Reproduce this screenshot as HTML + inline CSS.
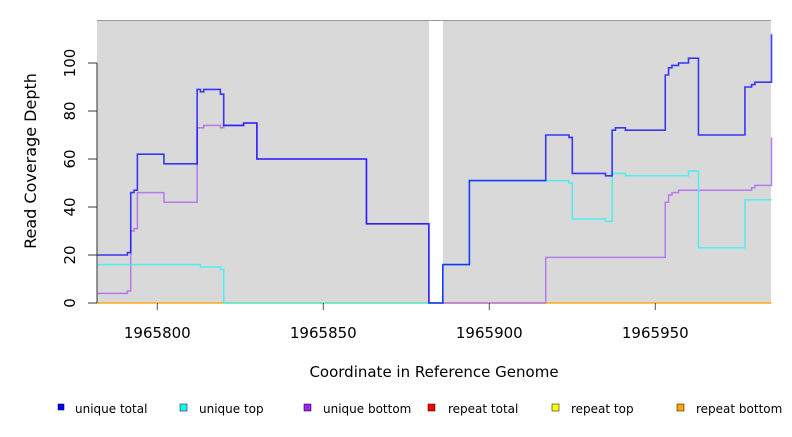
<!DOCTYPE html>
<html><head><meta charset="utf-8"><style>
body{margin:0;background:#fff;font-family:"Liberation Sans",sans-serif}
svg text{font-family:"DejaVu Sans","Liberation Sans",sans-serif}
</style></head><body>
<svg id="c" width="792" height="432" viewBox="0 0 792 432">
<rect x="97" y="20" width="332" height="283" fill="#d9d9d9"/>
<rect x="443" y="20" width="328" height="283" fill="#d9d9d9"/>
<line x1="97" y1="20.5" x2="771" y2="20.5" stroke="#999" stroke-width="1"/>
<g id="series"></g>
<g id="axes"></g>
<text x="36" y="161" transform="rotate(-90 36 161)" text-anchor="middle" font-size="16">Read Coverage Depth</text>
<text x="434" y="377" text-anchor="middle" font-size="15">Coordinate in Reference Genome</text>
<g>
<g><rect x="58" y="404" width="6" height="6" fill="#0000ff" stroke="#000" stroke-width="0.5"/><text x="75" y="413" font-size="12">unique total</text></g>
<g><rect x="180" y="404" width="7" height="7" fill="#00ffff" stroke="#000" stroke-width="0.5"/><text x="199" y="413" font-size="12">unique top</text></g>
<g><rect x="304" y="404" width="7" height="7" fill="#a020f0" stroke="#000" stroke-width="0.5"/><text x="323" y="413" font-size="12">unique bottom</text></g>
<g><rect x="428" y="404" width="7" height="7" fill="#ff0000" stroke="#000" stroke-width="0.5"/><text x="448" y="413" font-size="12">repeat total</text></g>
<g><rect x="552" y="404" width="7" height="7" fill="#ffff00" stroke="#000" stroke-width="0.5"/><text x="571" y="413" font-size="12">repeat top</text></g>
<g><rect x="677" y="404" width="7" height="7" fill="#ffa500" stroke="#000" stroke-width="0.5"/><text x="696" y="413" font-size="12">repeat bottom</text></g>
</g>
</svg>
<script>
const totalX=[1965781.8,1965791,1965792,1965793,1965794,1965802,1965812,1965813,1965814,1965819,1965820,1965826,1965830,1965863,1965881.8,1965886,1965894,1965917,1965924,1965925,1965935,1965937,1965938,1965941,1965953,1965954,1965955,1965957,1965960,1965963,1965977,1965979,1965980,1965985];
const totalY=[20,21,46,47,62,58,89,88,89,87,74,75,60,33,0,16,51,70,69,54,53,72,73,72,95,98,99,100,102,70,90,91,92,112];
const topX=[1965781.8,1965813,1965819,1965820,1965886,1965894,1965924,1965925,1965935,1965937,1965941,1965960,1965963,1965977,1965985];
const topY=[16,15,14,0,16,51,50,35,34,54,53,55,23,43,43];
const botX=[1965781.8,1965791,1965792,1965793,1965794,1965802,1965812,1965814,1965819,1965820,1965826,1965830,1965863,1965881.8,1965917,1965953,1965954,1965955,1965957,1965979,1965980,1965985];
const botY=[4,5,30,31,46,42,73,74,73,74,75,60,33,0,19,42,45,46,47,48,49,69];
const repeatX=[1965781.8,1965820,1965886,1965917,1965985];
const repeatY=[0,0,0,0,0];
const xTicks=[1965800,1965850,1965900,1965950];
const yTicks=[0,20,40,60,80,100];
const NS="http://www.w3.org/2000/svg";
const xs=v=>157.3+(v-1965800)*3.32;
const ys=v=>303-v*2.4;
function stepPath(X,Y){let d="M"+xs(X[0])+","+ys(Y[0]);for(let i=1;i<X.length;i++){d+=" H"+xs(X[i])+" V"+ys(Y[i]);}return d;}
const g=document.getElementById('series');
function addLine(X,Y,color,w,op,name){const p=document.createElementNS(NS,'path');p.setAttribute('d',stepPath(X,Y));p.setAttribute('fill','none');p.setAttribute('stroke',color);p.setAttribute('stroke-width',w);p.setAttribute('opacity',op);


g.appendChild(p);}
addLine(repeatX,repeatY,'#ffa500',1.5,0.9,'repeat-bottom-line');
addLine(botX,botY,'#b070f0',1.5,0.9,'unique-bottom-line');
addLine(topX,topY,'#40f0f0',1.5,0.9,'unique-top-line');
addLine(totalX,totalY,'#0000ff',1.6,0.75,'unique-total-line');
const a=document.getElementById('axes');
function mk(tag,attrs,txt){const e=document.createElementNS(NS,tag);for(const k in attrs)e.setAttribute(k,attrs[k]);if(txt!==undefined)e.textContent=txt;a.appendChild(e);return e;}
const yl=mk('line',{x1:97,y1:ys(0),x2:97,y2:ys(100),stroke:'#333','stroke-width':1});


yTicks.forEach(v=>{const t=mk('line',{x1:88,y1:ys(v),x2:97,y2:ys(v),stroke:'#333'});


const l=mk('text',{x:75,y:ys(v),'font-size':15,'text-anchor':'middle',transform:'rotate(-90 75 '+ys(v)+')'},String(v));

});
xTicks.forEach(v=>{const t=mk('line',{x1:xs(v),y1:303,x2:xs(v),y2:310,stroke:'#555'});


const l=mk('text',{x:xs(v),y:338,'font-size':15,'text-anchor':'middle'},String(v));

});
</script>
</body></html>
